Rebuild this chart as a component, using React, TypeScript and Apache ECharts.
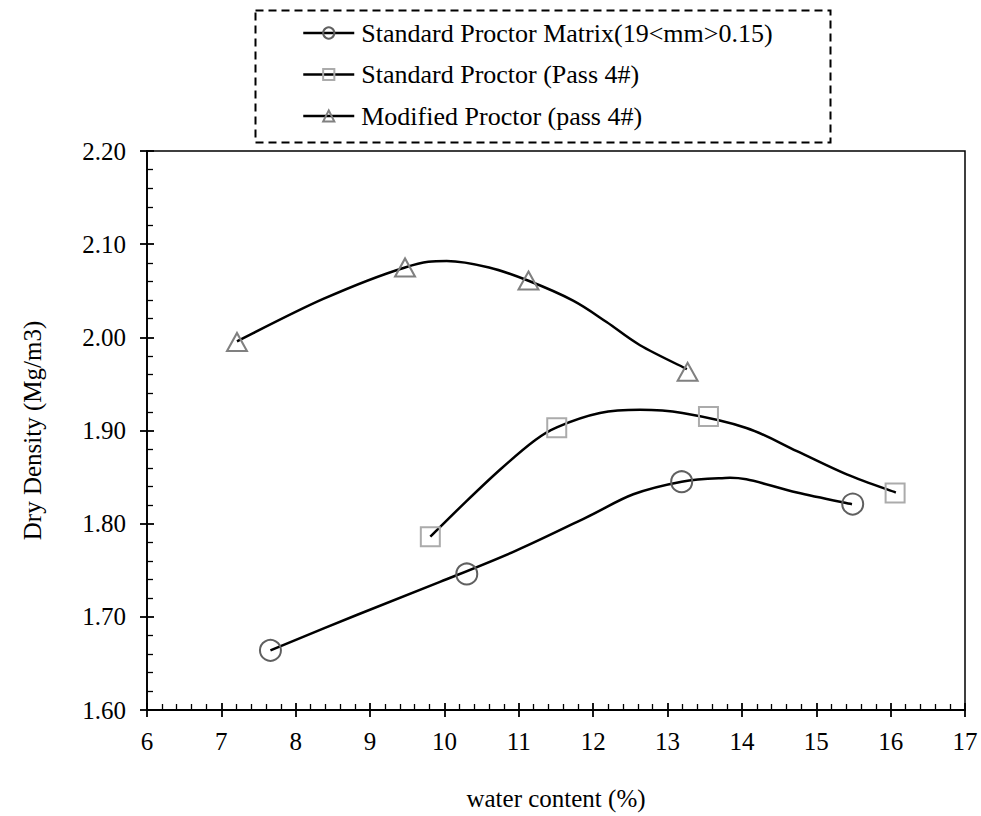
import React, { useEffect, useRef } from "react";
import * as echarts from "echarts";

const FONT = "Liberation Serif, Times New Roman, serif";

const seriesNames = [
  "Standard Proctor Matrix(19<mm>0.15)",
  "Standard Proctor (Pass 4#)",
  "Modified Proctor (pass 4#)",
];

// measured points (water content %, dry density Mg/m3)
const matrixPoints: [number, number][] = [
  [7.66, 1.664],
  [10.3, 1.746],
  [13.19, 1.845],
  [15.49, 1.821],
];
const pass4Points: [number, number][] = [
  [9.81, 1.786],
  [11.51, 1.903],
  [13.55, 1.915],
  [16.06, 1.833],
];
const modifiedPoints: [number, number][] = [
  [7.21, 1.995],
  [9.47, 2.075],
  [11.13, 2.061],
  [13.27, 1.963],
];

// fitted (trend) curves
const matrixCurve: [number, number][] = [
  [7.66, 1.664],
  [8.82, 1.702],
  [9.94, 1.7375],
  [10.97, 1.7713],
  [11.91, 1.8068],
  [12.54, 1.8316],
  [13.19, 1.8451],
  [13.7, 1.8488],
  [14.06, 1.8476],
  [14.74, 1.8334],
  [15.48, 1.8209],
];
const pass4Curve: [number, number][] = [
  [9.81, 1.786],
  [10.3, 1.8245],
  [10.75, 1.8582],
  [11.2, 1.8885],
  [11.51, 1.9034],
  [12.09, 1.9187],
  [12.63, 1.9222],
  [13.2, 1.9187],
  [14.06, 1.9027],
  [14.74, 1.8778],
  [15.41, 1.8529],
  [16.07, 1.8334],
];
const modifiedCurve: [number, number][] = [
  [7.21, 1.9957],
  [8.37, 2.0412],
  [9.47, 2.075],
  [10.03, 2.082],
  [10.6, 2.075],
  [11.13, 2.0607],
  [11.73, 2.0394],
  [12.18, 2.0164],
  [12.63, 1.9915],
  [13.26, 1.9659],
];

const xTicks = { min: 6, max: 17, interval: 1 };
const yTicks = { min: 1.6, max: 2.2, interval: 0.1 };

export default function App() {
  const ref = useRef<HTMLDivElement>(null);
  useEffect(() => {
    if (!ref.current) return;
    const chart = echarts.init(ref.current, undefined, { renderer: "svg" });
    const markerSeries = (
      name: string,
      data: [number, number][],
      symbol: string,
      size: number | number[],
      color: string
    ) => ({
      type: "line",
      name,
      data,
      symbol,
      symbolSize: size,
      showSymbol: true,
      xAxisIndex: 0,
      yAxisIndex: 0,
      lineStyle: { width: 0, opacity: 0 },
      itemStyle: { color: "rgba(255,255,255,0)", borderColor: color, borderWidth: 2 },
      z: 3,
    });
    // smooth curve through the read points (Catmull-Rom), positioned with the chart's own scales
    const curveSeries = (name: string, data: [number, number][]) => ({
      type: "custom",
      name,
      data,
      xAxisIndex: 0,
      yAxisIndex: 0,
      z: 2,
      silent: true,
      renderItem: (params: any, api: any) => {
        if (params.dataIndex !== 0) return null;
        const pts = data.map((p) => api.coord(p) as number[]);
        let d = `M${pts[0][0]},${pts[0][1]}`;
        for (let i = 0; i < pts.length - 1; i++) {
          const p0 = pts[i - 1] || pts[i];
          const p1 = pts[i];
          const p2 = pts[i + 1];
          const p3 = pts[i + 2] || pts[i + 1];
          const c1x = p1[0] + (p2[0] - p0[0]) / 6;
          const c1y = p1[1] + (p2[1] - p0[1]) / 6;
          const c2x = p2[0] - (p3[0] - p1[0]) / 6;
          const c2y = p2[1] - (p3[1] - p1[1]) / 6;
          d += ` C${c1x},${c1y} ${c2x},${c2y} ${p2[0]},${p2[1]}`;
        }
        return {
          type: "path",
          shape: { pathData: d },
          style: { fill: "none", stroke: "#000", lineWidth: 2.5 },
        };
      },
    });
    const axisLineStyle = { color: "#000", width: 1.8 };
    chart.setOption({
      animation: false,
      backgroundColor: "#fff",
      textStyle: { fontFamily: FONT },
      grid: {
        left: 147,
        right: 16,
        top: 151,
        bottom: 102,
        show: true,
        borderColor: "#000",
        borderWidth: 1.5,
      },
      legend: {
        orient: "vertical",
        left: 297,
        top: 15,
        itemWidth: 51,
        itemHeight: 14,
        itemGap: 15.5,
        data: seriesNames,
        textStyle: { fontFamily: FONT, fontSize: 26, color: "#000", padding: [0, 0, 0, 2] },
        lineStyle: { color: "#000", width: 2.5, opacity: 1, type: "solid" },
      },
      graphic: [
        {
          type: "rect",
          shape: { x: 255.5, y: 10.5, width: 575, height: 132 },
          style: { fill: "none", stroke: "#000", lineWidth: 2, lineDash: [8, 5] },
          silent: true,
        },
      ],
      xAxis: [
        {
          type: "value",
          min: xTicks.min,
          max: xTicks.max,
          interval: xTicks.interval,
          name: "water content (%)",
          nameLocation: "middle",
          nameGap: 76,
          nameTextStyle: { fontFamily: FONT, fontSize: 25, color: "#000" },
          axisLine: { show: true, onZero: false, lineStyle: axisLineStyle },
          axisTick: { show: true, inside: true, length: 7, lineStyle: axisLineStyle },
          minorTick: { show: true, splitNumber: 5, length: 6, lineStyle: { color: "#000", width: 1.3 } },
          axisLabel: { fontFamily: FONT, fontSize: 25, color: "#000", margin: 19 },
          splitLine: { show: false },
        },
        {
          type: "value",
          min: xTicks.min,
          max: xTicks.max,
          interval: xTicks.interval,
          position: "bottom",
          axisLine: { show: false, onZero: false },
          axisTick: { show: true, inside: false, length: 7, lineStyle: axisLineStyle },
          axisLabel: { show: false },
          splitLine: { show: false },
        },
      ],
      yAxis: [
        {
          type: "value",
          min: yTicks.min,
          max: yTicks.max,
          interval: yTicks.interval,
          name: "Dry Density (Mg/m3)",
          nameLocation: "middle",
          nameGap: 102,
          nameTextStyle: { fontFamily: FONT, fontSize: 25, color: "#000" },
          axisLine: { show: true, onZero: false, lineStyle: axisLineStyle },
          axisTick: { show: true, inside: true, length: 7, lineStyle: axisLineStyle },
          minorTick: { show: true, splitNumber: 5, length: 6, lineStyle: { color: "#000", width: 1.3 } },
          axisLabel: {
            fontFamily: FONT,
            fontSize: 25,
            color: "#000",
            margin: 21,
            formatter: (v: number) => v.toFixed(2),
          },
          splitLine: { show: false },
        },
        {
          type: "value",
          min: yTicks.min,
          max: yTicks.max,
          interval: yTicks.interval,
          position: "left",
          axisLine: { show: false, onZero: false },
          axisTick: { show: true, inside: false, length: 7, lineStyle: axisLineStyle },
          axisLabel: { show: false },
          splitLine: { show: false },
        },
      ],
      series: [
        curveSeries("curve1", matrixCurve),
        curveSeries("curve2", pass4Curve),
        curveSeries("curve3", modifiedCurve),
        markerSeries(seriesNames[0], matrixPoints, "circle", 21, "#606060"),
        markerSeries(seriesNames[1], pass4Points, "rect", 19, "#ababab"),
        markerSeries(seriesNames[2], modifiedPoints, "triangle", [20, 18], "#808080"),
      ],
    });
    return () => chart.dispose();
  }, []);
  return <div ref={ref} style={{ width: 981, height: 816, position: "absolute", left: 0, top: 0 }} />;
}
